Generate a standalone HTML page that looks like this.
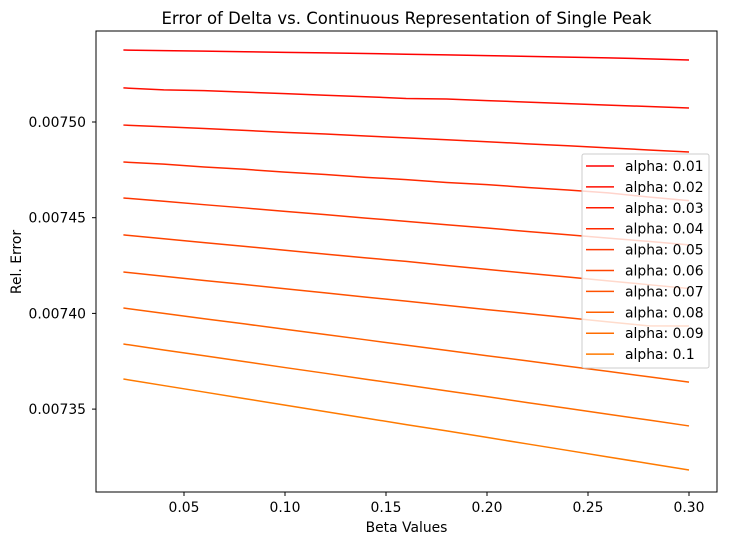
<!DOCTYPE html>
<html><head><meta charset="utf-8"><style>
body{margin:0;background:#fff;font-family:"DejaVu Sans",sans-serif;}
</style></head><body>
<svg id="c" width="729" height="545" xmlns="http://www.w3.org/2000/svg" font-family="DejaVu Sans, sans-serif"></svg>
<script>
const betas=[0.02,0.04,0.06,0.08,0.10,0.12,0.14,0.16,0.18,0.20,0.22,0.24,0.26,0.28,0.30];
const alphaLabels=["alpha: 0.01","alpha: 0.02","alpha: 0.03","alpha: 0.04","alpha: 0.05","alpha: 0.06","alpha: 0.07","alpha: 0.08","alpha: 0.09","alpha: 0.1"];
const s1=[0.0075376,0.0075373,0.0075370,0.0075367,0.0075364,0.0075361,0.0075358,0.0075354,0.0075351,0.0075347,0.0075343,0.0075339,0.0075335,0.0075330,0.0075324];
const s2=[0.0075178,0.0075168,0.0075164,0.0075156,0.0075148,0.0075140,0.0075132,0.0075123,0.0075120,0.0075112,0.0075104,0.0075096,0.0075088,0.0075081,0.0075073];
const s3=[0.0074984,0.0074975,0.0074966,0.0074956,0.0074946,0.0074937,0.0074927,0.0074917,0.0074907,0.0074897,0.0074886,0.0074876,0.0074865,0.0074854,0.0074843];
const s4=[0.0074791,0.0074780,0.0074765,0.0074753,0.0074738,0.0074726,0.0074711,0.0074699,0.0074684,0.0074673,0.0074658,0.0074645,0.0074630,0.0074608,0.0074589];
const s5=[0.0074603,0.0074586,0.0074568,0.0074551,0.0074533,0.0074516,0.0074498,0.0074481,0.0074463,0.0074446,0.0074428,0.0074411,0.0074393,0.0074376,0.0074358];
const s6=[0.0074410,0.0074390,0.0074370,0.0074350,0.0074330,0.0074310,0.0074290,0.0074272,0.0074250,0.0074230,0.0074210,0.0074190,0.0074170,0.0074150,0.0074130];
const s7=[0.0074216,0.0074194,0.0074172,0.0074151,0.0074129,0.0074107,0.0074085,0.0074064,0.0074042,0.0074020,0.0073999,0.0073977,0.0073956,0.0073935,0.0073934];
const s8=[0.0074028,0.0074000,0.0073972,0.0073945,0.0073917,0.0073890,0.0073862,0.0073834,0.0073807,0.0073779,0.0073752,0.0073724,0.0073697,0.0073669,0.0073641];
const s9=[0.0073840,0.0073809,0.0073779,0.0073748,0.0073717,0.0073687,0.0073656,0.0073626,0.0073595,0.0073565,0.0073534,0.0073504,0.0073473,0.0073443,0.0073412];
const s10=[0.0073657,0.0073623,0.0073589,0.0073555,0.0073521,0.0073487,0.0073453,0.0073419,0.0073386,0.0073352,0.0073318,0.0073284,0.0073250,0.0073216,0.0073182];
const series=[s1,s2,s3,s4,s5,s6,s7,s8,s9,s10];
const xTicks=[0.05,0.10,0.15,0.20,0.25,0.30];
const xTickLabels=["0.05","0.10","0.15","0.20","0.25","0.30"];
const yTicks=[0.00735,0.00740,0.00745,0.00750];
const yTickLabels=["0.00735","0.00740","0.00745","0.00750"];

const NS="http://www.w3.org/2000/svg";
const svg=document.getElementById('c');
const L=96,R=717,T=31,B=492;
const X=v=>184+(v-0.05)/0.05*101;
const Y=v=>122-(v-0.0075)/0.00005*95.7;
function mk(tag,attrs,parent){const e=document.createElementNS(NS,tag);for(const k in attrs)e.setAttribute(k,attrs[k]);(parent||svg).appendChild(e);return e;}
const color=i=>`rgb(255,${Math.round(i/9*122)},0)`;

series.forEach((s,i)=>{
  const p=mk('polyline',{points:s.map((v,j)=>X(betas[j])+','+Y(v)).join(' '),fill:'none',stroke:color(i),'stroke-width':1.5});
  
  
});
const frame=mk('rect',{x:L,y:T,width:R-L,height:B-T,fill:'none',stroke:'#000','stroke-width':1});


xTicks.forEach((v,i)=>{
  mk('line',{x1:X(v),x2:X(v),y1:B,y2:B+4,stroke:'#000'});
  const t=mk('text',{x:X(v),y:B+20,'font-size':13.9,'text-anchor':'middle'});t.textContent=xTickLabels[i];
  
  
});
yTicks.forEach((v,i)=>{
  mk('line',{x1:L-4,x2:L,y1:Y(v),y2:Y(v),stroke:'#000'});
  const t=mk('text',{x:L-10,y:Y(v)+5,'font-size':13.9,'text-anchor':'end'});t.textContent=yTickLabels[i];
  
  
});
let t=mk('text',{x:(L+R)/2,y:24,'font-size':16.5,'text-anchor':'middle'});t.textContent='Error of Delta vs. Continuous Representation of Single Peak';


t=mk('text',{x:(L+R)/2,y:532,'font-size':13.9,'text-anchor':'middle'});t.textContent='Beta Values';


t=mk('text',{x:0,y:0,'font-size':13.9,'text-anchor':'middle',transform:'translate(21,262) rotate(-90)'});t.textContent='Rel. Error';


const lg=mk('g',{});


mk('rect',{x:582,y:154,width:127,height:214,rx:2,fill:'rgba(255,255,255,0.8)',stroke:'#ccc'},lg);
alphaLabels.forEach((lab,i)=>{
  const y=166+i*20.9;
  const e=mk('g',{},lg);
  
  
  mk('line',{x1:586,x2:614,y1:y,y2:y,stroke:color(i),'stroke-width':1.5},e);
  const tx=mk('text',{x:625,y:y+5,'font-size':13.9},e);tx.textContent=lab;
});
</script>
</body></html>
